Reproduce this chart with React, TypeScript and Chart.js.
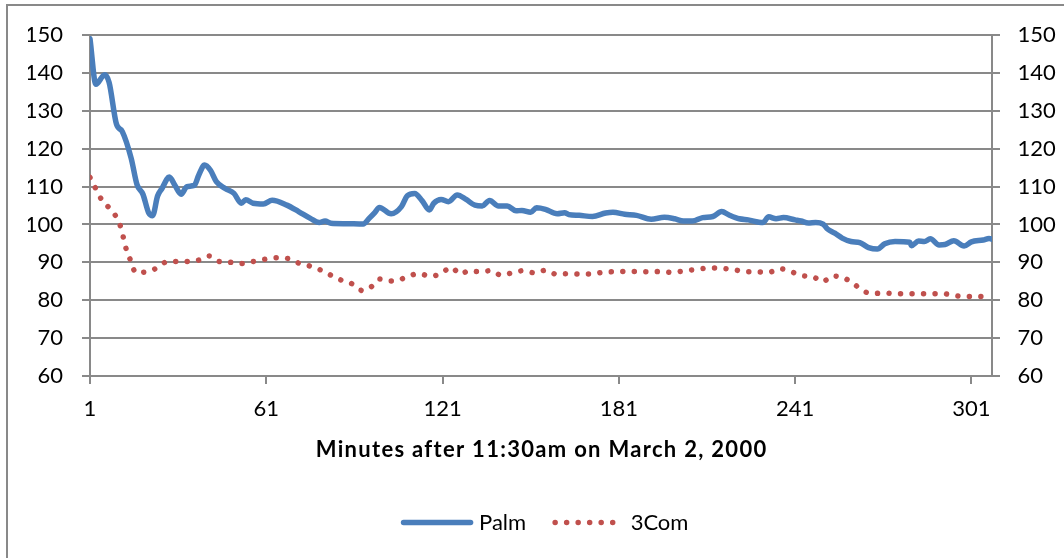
import React, { useEffect, useRef } from "react";
import { Chart, registerables } from "chart.js";

Chart.register(...registerables);

// ---- data ----
const seriesNames = ["Palm", "3Com"];
const xAxisTitle = "Minutes after 11:30am on March 2, 2000";
const xTickValues = [1, 61, 121, 181, 241, 301];
const xMin = 1;
const xMax = 308;
const yMin = 60;
const yMax = 150;
const yStep = 10;

const palmMinutes = [
  1, 3, 6, 7.5, 10, 12, 15, 17, 19, 21, 22.3, 24, 25.5, 28, 30, 32, 34, 36.5, 38, 40, 42, 44, 47, 50,
  52.5, 54, 56.5, 60, 63, 68, 72, 76, 79, 81, 83, 88, 94, 96, 98, 99.5, 103.5, 107, 109, 111.5, 114,
  116.5, 118, 120.5, 123, 126, 129, 132, 134.5, 137, 140, 143, 146, 148, 151, 153, 156, 160, 162.5,
  164, 167.5, 172, 176.5, 179, 183, 187, 192, 196.5, 200, 203, 206, 209.5, 213, 216, 218.5, 222, 225,
  230, 232, 234.5, 237, 241, 243, 245.5, 248, 250.5, 252, 254.5, 257, 260, 263, 266, 269, 271.5, 275,
  280, 280.6, 283, 285, 287, 290, 292, 295, 298.5, 301, 305, 307, 308,
];
const palmValues = [
  149, 137, 139.5, 137.5, 126.5, 124.5, 117.5, 110.5, 108, 103, 102.3, 107.5, 109.5, 112.5, 110.2, 108,
  110, 110.3, 113, 115.7, 114.3, 111.3, 109.5, 108.2, 105.6, 106.5, 105.6, 105.4, 106.4, 105.1, 103.4,
  101.6, 100.5, 100.9, 100.3, 100.2, 100.1, 101.6, 103.2, 104.5, 102.8, 104.7, 107.6, 108.2, 106.3,
  103.8, 105.6, 106.6, 106, 107.8, 106.6, 105.1, 104.9, 106.3, 104.9, 104.9, 103.6, 103.7, 103.2,
  104.4, 104, 102.8, 103.1, 102.6, 102.4, 102.1, 103, 103.2, 102.7, 102.4, 101.4, 101.9, 101.5, 100.9,
  100.9, 101.8, 102.1, 103.4, 102.5, 101.5, 101.2, 100.5, 102, 101.5, 101.8, 101.2, 100.9, 100.4,
  100.5, 100.1, 98.8, 97.7, 96.4, 95.5, 95.2, 93.9, 93.5, 94.9, 95.5, 95.3, 94.4, 95.6, 95.5, 96.2,
  94.6, 94.7, 95.7, 94.3, 95.4, 95.9, 96.3, 96.1,
];

const comMinutes = [
  1, 3, 5, 7.5, 10, 11.5, 12.5, 13.5, 15, 16.5, 20, 23.5, 27, 30.5, 34, 38, 41.5, 45, 49, 53, 56.5, 60.5,
  64.5, 68.5, 72, 76, 80, 83, 86.5, 90, 93.5, 96.5, 99.5, 102.5, 106, 109.5, 113, 117, 120.5, 124, 127,
  130, 133.5, 137.5, 141, 145, 148.5, 152.5, 156, 160, 163.5, 168, 172, 175.5, 179.5, 183.5, 187.5,
  191.5, 195.5, 199.5, 201, 205, 209, 213, 216.5, 220.5, 224.5, 228, 232, 236, 240, 244, 247, 250.5,
  253.5, 257.5, 261, 264, 267.5, 271.5, 275.5, 279, 283, 287, 291, 294.5, 298.5, 302.5, 306.5, 308,
];
const comValues = [
  112.4, 109.4, 106.5, 104.4, 101.9, 99.2, 96.1, 93, 90.2, 87.3, 87.5, 88.4, 90.1, 90.2, 90.2, 90.6,
  91.7, 90.2, 90, 89.7, 90.2, 90.8, 91.2, 91, 89.8, 89, 87.8, 86.6, 85.3, 84.4, 82.6, 83.4, 85.6, 85.1,
  85.3, 86.4, 87, 86.3, 87.1, 88.7, 86.9, 87.8, 87.5, 87.8, 86.6, 87.3, 87.8, 87.2, 87.9, 86.8, 87,
  86.9, 86.9, 87.4, 87.5, 87.6, 87.6, 87.5, 87.6, 87.3, 87.5, 87.9, 88.3, 88.5, 88.4, 88, 87.5, 87.5,
  87.4, 88.3, 87.4, 86.4, 86.2, 84.9, 86.4, 85.9, 84.3, 82.5, 81.8, 81.9, 81.7, 81.7, 81.7, 81.7, 81.8,
  81.3, 81, 81, 80.9, 80.8,
];

// ---- styles ----
const GRID = "#898989";
const FONT = "Lato";
const PALM_COLOR = "#4A7EBB";
const COM_COLOR = "#C0504D";
const LINE_W = 5.5;
const DOT_DASH = [0.01, 11.5];

const framePlugin = {
  id: "frame",
  beforeDraw(chart: any) {
    const ctx = chart.ctx;
    ctx.save();
    ctx.fillStyle = "#ffffff";
    ctx.fillRect(0, 0, chart.width, chart.height);
    ctx.strokeStyle = GRID;
    ctx.lineWidth = 2;
    ctx.beginPath();
    ctx.moveTo(7, chart.height);
    ctx.lineTo(7, 5);
    ctx.lineTo(chart.width, 5);
    ctx.stroke();
    ctx.restore();
  },
};

// x-axis title (drawn with a little letter spacing to match the wide bold face)
const titlePlugin = {
  id: "xtitle",
  afterDraw(chart: any) {
    const ctx = chart.ctx;
    const area = chart.chartArea;
    ctx.save();
    ctx.font = `bold 22px ${FONT}`;
    (ctx as any).letterSpacing = "1.3px";
    ctx.fillStyle = "#000";
    ctx.textBaseline = "middle";
    ctx.textAlign = "left";
    const w = ctx.measureText(xAxisTitle).width - 1.3;
    const cx = (area.left + area.right) / 2;
    ctx.fillText(xAxisTitle, cx - w / 2, 449.5);
    ctx.restore();
  },
};

// legend drawn manually so the dotted sample keeps its dots
const legendPlugin = {
  id: "customLegend",
  afterDraw(chart: any) {
    const ctx = chart.ctx;
    const boxW = 67;
    const gap = 8.5;
    const itemGap = 29;
    const cy = 522.5;
    const centerX = 546;
    ctx.save();
    ctx.font = `22px ${FONT}`;
    const styles = [
      { color: PALM_COLOR, dash: [] as number[] },
      { color: COM_COLOR, dash: DOT_DASH },
    ];
    const widths = seriesNames.map((n) => ctx.measureText(n).width);
    const total = seriesNames.reduce((acc, _n, i) => acc + boxW + gap + widths[i], 0) + itemGap * (seriesNames.length - 1);
    let x = centerX - total / 2;
    seriesNames.forEach((name, i) => {
      ctx.save();
      ctx.strokeStyle = styles[i].color;
      ctx.lineWidth = LINE_W;
      ctx.lineCap = "round";
      ctx.setLineDash(styles[i].dash);
      ctx.beginPath();
      ctx.moveTo(x, cy);
      ctx.lineTo(x + boxW, cy);
      ctx.stroke();
      ctx.restore();
      ctx.fillStyle = "#000";
      ctx.textBaseline = "middle";
      ctx.textAlign = "left";
      ctx.fillText(name, x + boxW + gap, cy);
      x += boxW + gap + widths[i] + itemGap;
    });
    ctx.restore();
  },
};

export default function App() {
  const canvasRef = useRef<HTMLCanvasElement | null>(null);

  useEffect(() => {
    if (!canvasRef.current) return;
    Chart.defaults.color = "#000";
    const palmData = palmMinutes.map((m, i) => ({ x: m, y: palmValues[i] }));
    const comData = comMinutes.map((m, i) => ({ x: m, y: comValues[i] }));

    const chart = new Chart(canvasRef.current, {
      type: "line",
      data: {
        datasets: [
          {
            label: seriesNames[0],
            data: palmData,
            borderColor: PALM_COLOR,
            backgroundColor: PALM_COLOR,
            borderWidth: LINE_W,
            borderCapStyle: "round",
            borderJoinStyle: "round",
            pointRadius: 0,
            cubicInterpolationMode: "monotone",
            fill: false,
            yAxisID: "y",
          },
          {
            label: seriesNames[1],
            data: comData,
            borderColor: COM_COLOR,
            backgroundColor: COM_COLOR,
            borderWidth: LINE_W,
            borderDash: DOT_DASH,
            borderCapStyle: "round",
            borderJoinStyle: "round",
            pointRadius: 0,
            cubicInterpolationMode: "monotone",
            fill: false,
            yAxisID: "y",
          },
        ],
      },
      options: {
        animation: false,
        responsive: false,
        maintainAspectRatio: false,
        devicePixelRatio: 1,
        layout: { padding: { top: 35, left: 28, right: 0, bottom: 75.5 } },
        plugins: {
          tooltip: { enabled: false },
          legend: { display: false },
        },
        scales: {
          x: {
            type: "linear",
            min: xMin,
            max: xMax,
            afterBuildTicks: (s: any) => {
              s.ticks = xTickValues.map((v) => ({ value: v }));
            },
            afterFit: (s: any) => {
              s.height = 106.5;
            },
            ticks: {
              autoSkip: false,
              maxRotation: 0,
              padding: 12,
              color: "#000",
              font: { family: FONT, size: 22 },
              callback: (v: any) => String(v),
            },
            grid: {
              drawOnChartArea: false,
              drawTicks: true,
              tickLength: 8,
              color: GRID,
              lineWidth: 2,
            },
            border: { display: true, color: GRID, width: 2 },
            title: { display: false, text: xAxisTitle },
          },
          y: {
            position: "left",
            min: yMin,
            max: yMax,
            afterFit: (s: any) => {
              s.width = 62;
            },
            ticks: {
              stepSize: yStep,
              padding: 19,
              color: "#000",
              font: { family: FONT, size: 22 },
            },
            grid: {
              drawOnChartArea: true,
              drawTicks: true,
              tickLength: 8,
              color: GRID,
              lineWidth: 2,
            },
            border: { display: true, color: GRID, width: 2 },
          },
          y1: {
            position: "right",
            min: yMin,
            max: yMax,
            afterFit: (s: any) => {
              s.width = 72;
            },
            ticks: {
              stepSize: yStep,
              padding: 17.5,
              color: "#000",
              font: { family: FONT, size: 22 },
            },
            grid: {
              drawOnChartArea: false,
              drawTicks: true,
              tickLength: 8,
              color: GRID,
              lineWidth: 2,
            },
            border: { display: true, color: GRID, width: 2 },
          },
        },
      },
      plugins: [framePlugin, titlePlugin, legendPlugin],
    } as any);

    return () => chart.destroy();
  }, []);

  return (
    <div style={{ position: "fixed", left: 0, top: 0, width: 1064, height: 558, background: "#fff" }}>
      <canvas ref={canvasRef} width={1064} height={558} style={{ display: "block" }} />
    </div>
  );
}
